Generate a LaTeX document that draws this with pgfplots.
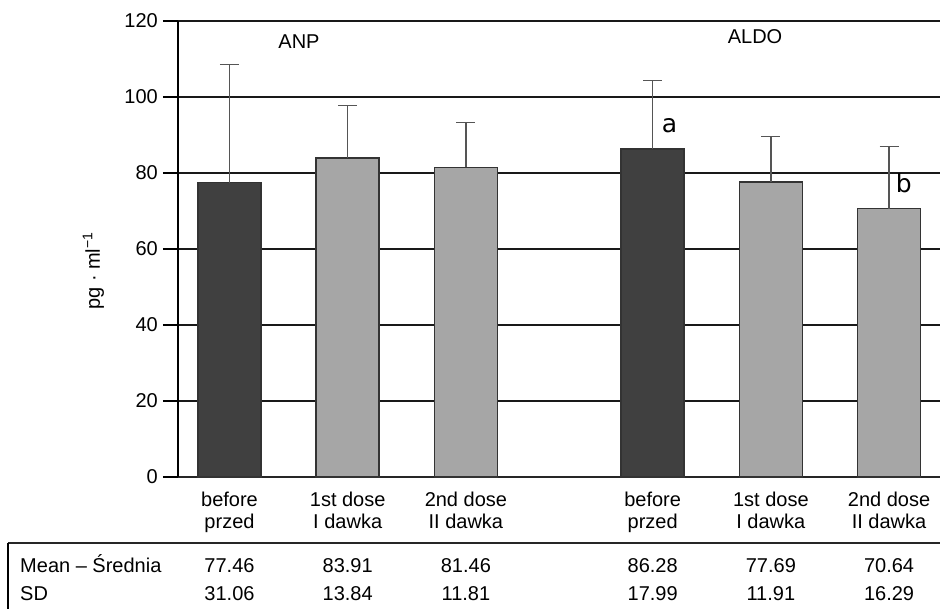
\documentclass[border=0pt]{standalone}
\usepackage{fontspec}
\setmainfont{Liberation Sans}
\newfontfamily\dejavu{DejaVu Sans}
\usepackage{pgfplots}
\pgfplotsset{compat=1.18}
\definecolor{darkbar}{HTML}{404040}
\definecolor{lightbar}{HTML}{A6A6A6}
\definecolor{edgec}{HTML}{333333}
\definecolor{errc}{HTML}{555555}
\begin{document}
\begin{tikzpicture}[font=\fontsize{20bp}{21.5bp}\selectfont]
\useasboundingbox (-178bp,-132bp) rectangle (762bp,477bp);
\begin{axis}[
  at={(0,0)}, anchor=south west,
  scale only axis, width=762bp, height=456bp,
  xmin=-0.4357, xmax=6.011, ymin=0, ymax=120,
  axis x line*=bottom, axis y line*=left,
  axis line style={-, black, line width=1.3bp},
  x axis line style={line width=2bp, black!85},
  ytick={0,20,...,120},
  ymajorgrids, grid style={black!90, line width=1.2bp},
  tick align=outside, major tick length=15bp,
  ytick style={black, line width=1.2bp},
  xtick={0,1,2,3.58,4.58,5.58},
  xticklabels={{before\\przed},{1st dose\\I dawka},{2nd dose\\II dawka},{before\\przed},{1st dose\\I dawka},{2nd dose\\II dawka}},
  xticklabel style={align=center, inner sep=0pt, anchor=north},
  yticklabel style={inner sep=0pt, anchor=east, xshift=-5bp},
  xtick style={draw=none},
  /pgf/number format/assume math mode=true,
  clip=false,
  ybar, bar width=63bp, bar shift=0pt,
  error bars/y dir=plus, error bars/y explicit,
  error bars/error bar style={errc, line width=1.3bp},
  error bars/error mark options={errc, line width=1.3bp, mark size=9.5bp, rotate=90},
]
\addplot[fill=darkbar, draw=edgec, line width=1.5bp] coordinates {
  (0,77.46) +- (0,31.06)
  (3.58,86.28) +- (0,17.99)
};
\addplot[fill=lightbar, draw=edgec, line width=1.5bp] coordinates {
  (1,83.91) +- (0,13.84)
  (2,81.46) +- (0,11.81)
  (4.58,77.69) +- (0,11.91)
  (5.58,70.64) +- (0,16.29)
};
% annotations
\node[inner sep=0pt] at (axis cs:0.588,114.47) {ANP};
\node[inner sep=0pt] at (axis cs:4.446,115.8) {ALDO};
\node[inner sep=0pt, font=\dejavu\fontsize{25bp}{28bp}\selectfont] at (axis cs:3.722,92.5) {a};
\node[inner sep=0pt, font=\dejavu\fontsize{25bp}{28bp}\selectfont] at (axis cs:5.704,77.3) {b};
\node[rotate=90, inner sep=0pt] at (rel axis cs:-0.1109,0.452) {pg · ml\textsuperscript{−1}};
% table
\draw[black!85, line width=1.4bp] (axis cs:-1.874,-17.37) -- (axis cs:6.011,-17.37);
\draw[black, line width=1.1bp] (axis cs:-1.874,-17.37) -- (axis cs:-1.874,-36);
\node[anchor=base west, inner sep=0pt] at (axis cs:-1.772,-25.26) {Mean – Średnia};
\node[anchor=base west, inner sep=0pt] at (axis cs:-1.772,-32.63) {SD};
\node[anchor=base, inner sep=0pt] at (axis cs:0,-25.26) {77.46};
\node[anchor=base, inner sep=0pt] at (axis cs:1,-25.26) {83.91};
\node[anchor=base, inner sep=0pt] at (axis cs:2,-25.26) {81.46};
\node[anchor=base, inner sep=0pt] at (axis cs:3.58,-25.26) {86.28};
\node[anchor=base, inner sep=0pt] at (axis cs:4.58,-25.26) {77.69};
\node[anchor=base, inner sep=0pt] at (axis cs:5.58,-25.26) {70.64};
\node[anchor=base, inner sep=0pt] at (axis cs:0,-32.63) {31.06};
\node[anchor=base, inner sep=0pt] at (axis cs:1,-32.63) {13.84};
\node[anchor=base, inner sep=0pt] at (axis cs:2,-32.63) {11.81};
\node[anchor=base, inner sep=0pt] at (axis cs:3.58,-32.63) {17.99};
\node[anchor=base, inner sep=0pt] at (axis cs:4.58,-32.63) {11.91};
\node[anchor=base, inner sep=0pt] at (axis cs:5.58,-32.63) {16.29};
\end{axis}
\end{tikzpicture}
\end{document}
